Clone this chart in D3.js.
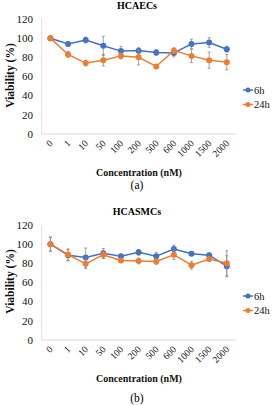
<!DOCTYPE html>
<html>
<head>
<meta charset="utf-8">
<script src="https://cdn.jsdelivr.net/npm/d3@7"></script>
<style>
  body { margin: 0; background: #fff; }
  svg { display: block; font-family: "Liberation Serif", "Times New Roman", serif; }
</style>
</head>
<body>
<div id="chart"></div>
<script>
// ---- data ----
const categories = ["0", "1", "10", "50", "100", "200", "500", "600", "1000", "1500", "2000"];
const yTicks = [0, 20, 40, 60, 80, 100, 120];
const seriesNames = ["6h", "24h"];
const colors = ["#4472C4", "#ED7D31"];

// HCAECs
const aec6h   = [100, 94, 98, 92, 86.5, 87, 85, 84.5, 94, 95.5, 88.5];
const aec6hE  = [2, 2, 3, 10, 5, 3, 3, 4, 5, 5, 3];
const aec24h  = [100, 83, 74, 77, 81.5, 80, 70.5, 87, 81.5, 77, 75];
const aec24hE = [2, 3, 3, 6, 3, 8, 1, 3, 7, 8.5, 8];

// HCASMCs
const smc6h   = [100, 88.5, 86, 90.5, 87.5, 91.5, 87.5, 95, 90, 88.5, 77];
const smc6hE  = [7.5, 6, 10, 5, 2, 3, 4, 4, 2, 2, 11];
const smc24h  = [100, 89, 79.5, 89, 83, 82.5, 82, 89, 78, 84.5, 80];
const smc24hE = [7, 6, 5, 4, 2, 3, 3, 5, 4, 2, 13];

const panels = [
  { title: "HCAECs", letter: "(a)", top: 0, letterY: 189, series: [[aec6h, aec6hE], [aec24h, aec24hE]] },
  { title: "HCASMCs", letter: "(b)", top: 206, letterY: 402, series: [[smc6h, smc6hE], [smc24h, smc24hE]] }
];

const W = 275, H = 405;
const svg = d3.select("#chart").append("svg").attr("width", W).attr("height", H);

const x = d3.scaleBand().domain(categories).range([41.6, 235.6]);

panels.forEach(p => {
  const g = svg.append("g").attr("transform", `translate(0,${p.top})`);
  const y = d3.scaleLinear().domain([0, 120]).range([134, 19]);

  // title
  g.append("text").attr("x", 137).attr("y", 9)
    .attr("text-anchor", "middle").attr("font-size", 10).attr("font-weight", "bold")
    .text(p.title);

  // left axis line + bottom axis line
  g.append("line").attr("x1", 41.6).attr("x2", 41.6).attr("y1", y(120)).attr("y2", y(0))
    .attr("stroke", "#e0e0e0").attr("stroke-width", 1);
  g.append("line").attr("x1", 41.6).attr("x2", 235.6).attr("y1", y(0)).attr("y2", y(0))
    .attr("stroke", "#d9d9d9").attr("stroke-width", 1);

  // y tick labels
  g.selectAll(".yt").data(yTicks).join("text")
    .attr("x", 33).attr("y", d => y(d) + 3.8)
    .attr("text-anchor", "end").attr("font-size", 11).attr("fill", "#111")
    .text(d => d);

  // x tick labels, rotated
  g.selectAll(".xt").data(categories).join("text")
    .attr("text-anchor", "end").attr("font-size", 9.5).attr("fill", "#111")
    .attr("transform", d => `translate(${x(d) + x.bandwidth() / 2 + 3},${y(0) + 10}) rotate(-45)`)
    .text(d => d);

  // axis titles
  g.append("text").attr("transform", `translate(13.5,${(y(0) + y(120)) / 2 - 1}) rotate(-90)`)
    .attr("text-anchor", "middle").attr("font-size", 11.5).attr("font-weight", "bold").attr("fill", "#111")
    .text("Viability (%)");
  g.append("text").attr("x", 139).attr("y", 176)
    .attr("text-anchor", "middle").attr("font-size", 10).attr("font-weight", "bold").attr("fill", "#111")
    .text("Concentration (nM)");

  const cx = c => x(c) + x.bandwidth() / 2;

  p.series.forEach(([vals, errs], si) => {
    const col = colors[si];
    const pts = categories.map((c, i) => ({ c, v: vals[i], e: errs[i] }));

    const line = d3.line().x(d => cx(d.c)).y(d => y(d.v));
    g.append("path").datum(pts).attr("d", line)
      .attr("fill", "none").attr("stroke", col).attr("stroke-width", 1.5);

    // error bars
    const eb = g.append("g").attr("stroke", "#8c8c8c").attr("stroke-width", 0.8);
    pts.forEach(d => {
      eb.append("line").attr("x1", cx(d.c)).attr("x2", cx(d.c))
        .attr("y1", y(d.v - d.e)).attr("y2", y(d.v + d.e));
      [d.v - d.e, d.v + d.e].forEach(v => {
        eb.append("line").attr("x1", cx(d.c) - 1.5).attr("x2", cx(d.c) + 1.5)
          .attr("y1", y(v)).attr("y2", y(v));
      });
    });

    g.selectAll(null).data(pts).join("circle")
      .attr("cx", d => cx(d.c)).attr("cy", d => y(d.v)).attr("r", 3)
      .attr("fill", col);
  });

  // legend
  seriesNames.forEach((name, si) => {
    const ly = 90 + si * 14.5;
    g.append("line").attr("x1", 243).attr("x2", 253).attr("y1", ly).attr("y2", ly)
      .attr("stroke", colors[si]).attr("stroke-width", 1.5);
    g.append("circle").attr("cx", 248).attr("cy", ly).attr("r", 2.5).attr("fill", colors[si]);
    g.append("text").attr("x", 254).attr("y", ly + 3.5).attr("font-size", 10.5).attr("fill", "#111")
      .text(name);
  });

  svg.append("text").attr("x", 137).attr("y", p.letterY)
    .attr("text-anchor", "middle").attr("font-size", 11.5).attr("fill", "#000")
    .text(p.letter);
});
</script>
</body>
</html>
